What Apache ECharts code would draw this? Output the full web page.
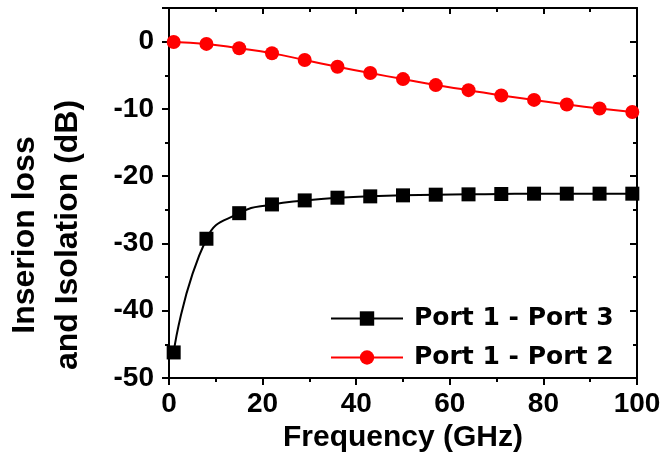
<!DOCTYPE html>
<html>
<head>
<meta charset="utf-8">
<script src="https://cdn.jsdelivr.net/npm/echarts@6/dist/echarts.min.js"></script>
<style>html,body{margin:0;padding:0;background:#fff;}#c{width:665px;height:461px;}</style>
</head>
<body>
<div id="c"></div>
<script>
var freq = [1, 8, 15, 22, 29, 36, 43, 50, 57, 64, 71, 78, 85, 92, 99];
var port13 = [-46.2, -29.3, -25.5, -24.2, -23.6, -23.2, -23.0, -22.85, -22.75, -22.7, -22.65, -22.6, -22.6, -22.6, -22.6];
var port12 = [-0.05, -0.34, -0.99, -1.73, -2.73, -3.73, -4.67, -5.57, -6.46, -7.21, -8.0, -8.66, -9.34, -9.94, -10.45];
var seriesNames = ['Port 1 - Port 3', 'Port 1 - Port 2'];
var xTitle = 'Frequency (GHz)';
var yTitle = 'Inserion loss\nand Isolation (dB)';

function pairs(xs, ys) { return xs.map(function (x, i) { return [x, ys[i]]; }); }

var FONT = 'Liberation Sans, Arial, sans-serif';
var chart = echarts.init(document.getElementById('c'));
var axisBase = {
  axisLine: { show: true, onZero: false, lineStyle: { color: '#000', width: 2 } },
  splitLine: { show: false },
  minorSplitLine: { show: false }
};
chart.setOption({
  animation: false,
  backgroundColor: '#fff',
  grid: { left: 169, right: 28, top: 8, bottom: 83, containLabel: false },
  xAxis: [
    Object.assign({}, axisBase, {
      type: 'value', min: 0, max: 100, interval: 20, position: 'bottom',
      name: xTitle, nameLocation: 'middle', nameGap: 44,
      nameTextStyle: { fontFamily: FONT, fontWeight: 'bold', fontSize: 30, color: '#000' },
      axisTick: { show: true, inside: false, length: 7, lineStyle: { color: '#000', width: 2 } },
      minorTick: { show: true, splitNumber: 2, length: 4, lineStyle: { color: '#000', width: 2 } },
      axisLabel: { fontFamily: FONT, fontWeight: 'bold', fontSize: 28, color: '#000', margin: 12 }
    }),
    Object.assign({}, axisBase, {
      type: 'value', min: 0, max: 100, interval: 20, position: 'top',
      axisTick: { show: true, inside: true, length: 6, lineStyle: { color: '#000', width: 2 } },
      minorTick: { show: true, splitNumber: 2, length: 4, lineStyle: { color: '#000', width: 2 } },
      axisLabel: { show: false }
    })
  ],
  yAxis: [
    Object.assign({}, axisBase, {
      type: 'value', min: -50, max: 5, interval: 10, position: 'left',
      axisTick: { show: true, inside: false, length: 7, lineStyle: { color: '#000', width: 2 } },
      minorTick: { show: true, splitNumber: 2, length: 4, lineStyle: { color: '#000', width: 2 } },
      axisLabel: { fontFamily: FONT, fontWeight: 'bold', fontSize: 28, color: '#000', margin: 15, showMaxLabel: false,
        formatter: function (v) { return v > 0 ? '' : String(v); } }
    }),
    Object.assign({}, axisBase, {
      type: 'value', min: -50, max: 5, interval: 10, position: 'right',
      axisTick: { show: true, inside: true, length: 7, lineStyle: { color: '#000', width: 2 } },
      minorTick: { show: true, splitNumber: 2, length: 4, lineStyle: { color: '#000', width: 2 } },
      axisLabel: { show: false }
    })
  ],
  legend: {
    orient: 'vertical', left: 325, top: 301,
    itemWidth: 72, itemHeight: 18, itemGap: 14,
    data: seriesNames,
    textStyle: { fontFamily: 'DejaVu Sans', fontWeight: 'bold', fontSize: 25, color: '#000', lineHeight: 25, padding: [0, 0, 0, 6] }
  },
  graphic: [{
    type: 'text', x: 47, y: 235, rotation: Math.PI / 2,
    style: { text: yTitle, font: 'bold 32px ' + FONT, fill: '#000', align: 'center', verticalAlign: 'middle', lineHeight: 43 }
  }],
  series: [
    {
      name: seriesNames[0], type: 'line', smooth: true, data: pairs(freq, port13),
      symbol: 'rect', symbolSize: 14,
      lineStyle: { color: '#000', width: 2 }, itemStyle: { color: '#000' }
    },
    {
      name: seriesNames[1], type: 'line', smooth: true, data: pairs(freq, port12),
      symbol: 'circle', symbolSize: 14,
      lineStyle: { color: '#ff0000', width: 2 }, itemStyle: { color: '#ff0000' }
    }
  ]
});
</script>
</body>
</html>
